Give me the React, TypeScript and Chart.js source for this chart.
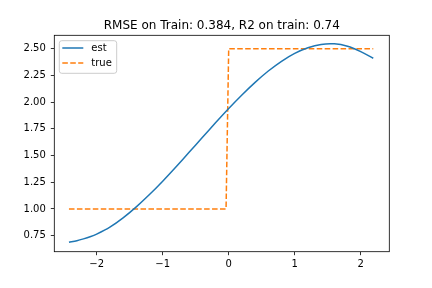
import React, { useEffect, useRef } from "react";
import { Chart, registerables } from "chart.js";

Chart.register(...registerables);

const titleText = "RMSE on Train: 0.384, R2 on train: 0.74";
const seriesLabels = ["est", "true"];
const seriesColors = ["#1f77b4", "#ff7f0e"];

const estX = [-2.42, -2.3, -2.2, -2.1, -2.0, -1.8, -1.6, -1.4, -1.2, -1.0, -0.8, -0.6, -0.4, -0.2, 0.0, 0.2, 0.4, 0.6, 0.8, 1.0, 1.2, 1.4, 1.6, 1.8, 2.0, 2.19];
const estY = [0.688, 0.703, 0.72, 0.74, 0.765, 0.83, 0.917, 1.02, 1.135, 1.26, 1.393, 1.53, 1.668, 1.806, 1.94, 2.067, 2.185, 2.291, 2.382, 2.456, 2.509, 2.54, 2.545, 2.522, 2.472, 2.41];

const trueX = [-2.42, -0.04, 0.0, 2.19];
const trueY = [1.0, 1.0, 2.5, 2.5];

const xTicks = [-2, -1, 0, 1, 2];
const yTicks = [0.75, 1.0, 1.25, 1.5, 1.75, 2.0, 2.25, 2.5];

const FONT = "'DejaVu Sans', sans-serif";

const decorPlugin = {
  id: "decor",
  afterDraw(chart: any) {
    const ctx = chart.ctx;
    const a = chart.chartArea;
    ctx.save();
    // frame
    ctx.strokeStyle = "#000";
    ctx.lineWidth = 0.8;
    ctx.strokeRect(a.left, a.top, a.right - a.left, a.bottom - a.top);
    // title
    ctx.fillStyle = "#000";
    ctx.font = `12px ${FONT}`;
    ctx.textAlign = "center";
    ctx.textBaseline = "alphabetic";
    ctx.fillText(titleText, (a.left + a.right) / 2, 28.5);
    // legend
    const bx = a.left + 5;
    const by = a.top + 5.4;
    const bw = 57.4;
    const bh = 32.6;
    ctx.beginPath();
    const r = 2.5;
    ctx.moveTo(bx + r, by);
    ctx.lineTo(bx + bw - r, by);
    ctx.arcTo(bx + bw, by, bx + bw, by + r, r);
    ctx.lineTo(bx + bw, by + bh - r);
    ctx.arcTo(bx + bw, by + bh, bx + bw - r, by + bh, r);
    ctx.lineTo(bx + r, by + bh);
    ctx.arcTo(bx, by + bh, bx, by + bh - r, r);
    ctx.lineTo(bx, by + r);
    ctx.arcTo(bx, by, bx + r, by, r);
    ctx.closePath();
    ctx.fillStyle = "rgba(255,255,255,0.8)";
    ctx.fill();
    ctx.strokeStyle = "#cccccc";
    ctx.lineWidth = 1;
    ctx.stroke();
    ctx.font = `10px ${FONT}`;
    ctx.textAlign = "left";
    ctx.textBaseline = "middle";
    seriesLabels.forEach((lab, i) => {
      const y = by + 7.3 + i * 15;
      ctx.beginPath();
      ctx.strokeStyle = seriesColors[i];
      ctx.lineWidth = 1.5;
      ctx.setLineDash(i === 1 ? [5.55, 2.4] : []);
      ctx.moveTo(bx + 3, y);
      ctx.lineTo(bx + 24, y);
      ctx.stroke();
      ctx.setLineDash([]);
      ctx.fillStyle = "#000";
      ctx.fillText(lab, bx + 32, y);
    });
    ctx.restore();
  },
};

function fmtX(v: number) {
  const s = String(Math.abs(v));
  return v < 0 ? "\u2212" + s : s;
}

export default function App() {
  const ref = useRef<HTMLCanvasElement | null>(null);
  useEffect(() => {
    document.body.style.margin = "0";
    const canvas = ref.current!;
    const chart = new Chart(canvas, {
      type: "line",
      data: {
        datasets: [
          {
            label: seriesLabels[0],
            data: estX.map((x, i) => ({ x, y: estY[i] })),
            borderColor: seriesColors[0],
            borderWidth: 1.5,
            pointRadius: 0,
            tension: 0.3,
            fill: false,
          },
          {
            label: seriesLabels[1],
            data: trueX.map((x, i) => ({ x, y: trueY[i] })),
            borderColor: seriesColors[1],
            borderWidth: 1.5,
            borderDash: [5.55, 2.4],
            pointRadius: 0,
            tension: 0,
            fill: false,
          },
        ],
      },
      options: {
        animation: false,
        responsive: false,
        devicePixelRatio: 1,
        layout: { padding: { left: 0, top: 35.3, right: 42.7, bottom: 0 } },
        plugins: { legend: { display: false }, title: { display: false }, tooltip: { enabled: false } },
        scales: {
          x: {
            type: "linear",
            min: -2.642,
            max: 2.433,
            afterBuildTicks: (s: any) => {
              s.ticks = xTicks.map((v) => ({ value: v }));
            },
            afterFit: (s: any) => {
              s.height = 36.3;
            },
            ticks: {
              callback: (v: any) => fmtX(Number(v)),
              font: { family: FONT, size: 10 },
              color: "#000",
              padding: 3,
              maxRotation: 0,
              autoSkip: false,
            },
            grid: { display: true, drawOnChartArea: false, drawTicks: true, tickLength: 3.5, color: "#000", lineWidth: 0.8 },
            border: { display: false },
          },
          y: {
            type: "linear",
            min: 0.6,
            max: 2.625,
            afterBuildTicks: (s: any) => {
              s.ticks = yTicks.map((v) => ({ value: v }));
            },
            afterFit: (s: any) => {
              s.width = 54.3;
            },
            ticks: {
              callback: (v: any) => Number(v).toFixed(2),
              font: { family: FONT, size: 10 },
              color: "#000",
              padding: 5,
              autoSkip: false,
            },
            grid: { display: true, drawOnChartArea: false, drawTicks: true, tickLength: 3.5, color: "#000", lineWidth: 0.8 },
            border: { display: false },
          },
        },
      } as any,
      plugins: [decorPlugin],
    });
    return () => chart.destroy();
  }, []);
  return (
    <div style={{ position: "absolute", left: 0, top: 0, width: 432, height: 288, background: "#fff" }}>
      <canvas ref={ref} width={432} height={288} style={{ width: 432, height: 288 }} />
    </div>
  );
}
